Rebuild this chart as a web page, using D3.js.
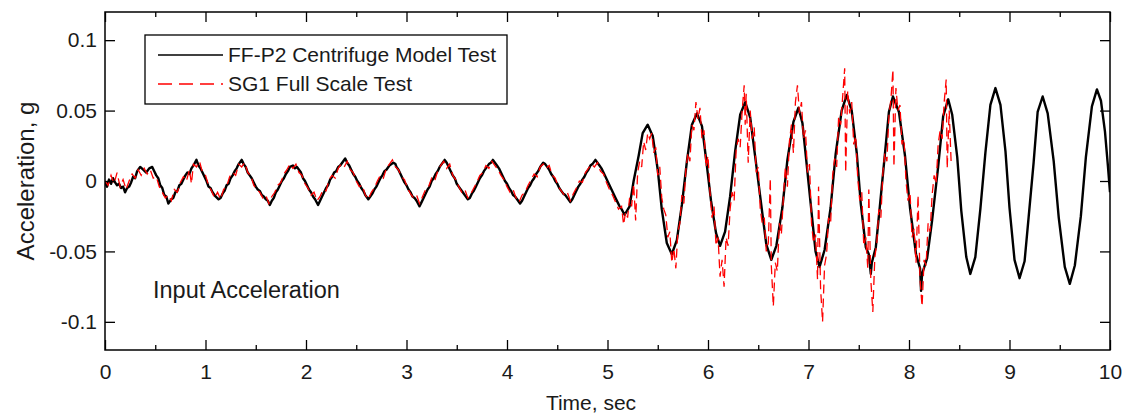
<!DOCTYPE html>
<html>
<head>
<meta charset="utf-8">
<script src="https://cdn.jsdelivr.net/npm/d3@7"></script>
<style>
  body { margin: 0; background: #fff; }
  svg text { font-family: "Liberation Sans", Arial, sans-serif; fill: #1a1a1a; }
</style>
</head>
<body>
<div id="chart"></div>
<script>
var W = 1122, H = 417;
var margin = {left: 105, right: 12, top: 12, bottom: 67};

// x domain / y domain of the figure
var timeRange = [0, 10];
var accelRange = [-0.12, 0.12];
var xMajor = [0, 1, 2, 3, 4, 5, 6, 7, 8, 9, 10];
var xMinor = [0.5, 1.5, 2.5, 3.5, 4.5, 5.5, 6.5, 7.5, 8.5, 9.5];
var yTicks = [-0.1, -0.05, 0, 0.05, 0.1];

// FF-P2 Centrifuge Model Test  [time s, acceleration g]
var ffP2 = [
  [0.00,-0.001],[0.02,-0.004],[0.04,0.001],[0.06,-0.002],[0.08,0.002],[0.10,-0.001],[0.12,-0.003],[0.14,-0.002],[0.16,-0.005],[0.18,-0.004],[0.20,-0.008],[0.22,-0.005],[0.24,-0.004],[0.26,-0.001],[0.28,0.003],
  [0.30,0.002],[0.32,0.007],[0.35,0.010],[0.38,0.008],[0.41,0.006],[0.44,0.009],[0.47,0.010],[0.49,0.007],[0.51,0.004],[0.53,0.002],[0.55,-0.003],
  [0.57,-0.005],[0.59,-0.010],[0.61,-0.011],[0.63,-0.016],[0.66,-0.013],[0.68,-0.012],[0.70,-0.008],[0.72,-0.007],[0.74,-0.003],[0.76,-0.002],[0.78,0.001],[0.80,0.004],[0.82,0.006],[0.84,0.005],[0.86,0.009],[0.88,0.011],
  [0.91,0.015],[0.93,0.011],[0.95,0.009],[0.97,0.006],[0.99,0.003],[1.01,0.000],[1.03,-0.004],[1.05,-0.005],[1.07,-0.008],[1.10,-0.011],[1.13,-0.013],[1.15,-0.012],[1.17,-0.009],
  [1.19,-0.007],[1.21,-0.003],[1.23,-0.002],[1.25,0.002],[1.27,0.004],[1.29,0.007],[1.31,0.009],[1.33,0.012],[1.36,0.015],[1.38,0.012],[1.40,0.010],[1.42,0.006],[1.44,0.004],[1.46,0.002],[1.48,-0.001],
  [1.50,-0.004],[1.52,-0.006],[1.54,-0.007],[1.56,-0.010],[1.58,-0.011],[1.60,-0.013],[1.62,-0.014],[1.64,-0.017],[1.66,-0.014],[1.68,-0.012],[1.70,-0.008],[1.72,-0.006],[1.74,-0.003],[1.76,0.000],[1.78,0.002],[1.80,0.005],
  [1.82,0.007],[1.84,0.010],[1.87,0.011],[1.89,0.009],[1.91,0.010],[1.93,0.008],[1.95,0.006],[1.97,0.002],[1.99,0.000],[2.01,-0.003],[2.03,-0.006],[2.05,-0.008],[2.07,-0.011],[2.09,-0.013],[2.12,-0.017],
  [2.14,-0.014],[2.16,-0.011],[2.18,-0.008],[2.20,-0.005],[2.22,-0.003],[2.24,0.001],[2.26,0.003],[2.28,0.006],[2.30,0.007],[2.32,0.010],[2.34,0.011],[2.36,0.013],[2.39,0.016],[2.41,0.013],[2.43,0.011],
  [2.45,0.008],[2.47,0.005],[2.49,0.003],[2.51,0.000],[2.53,-0.002],[2.55,-0.005],[2.57,-0.007],[2.59,-0.010],[2.62,-0.013],[2.64,-0.011],[2.66,-0.009],[2.68,-0.006],[2.70,-0.004],[2.72,-0.001],[2.74,0.002],
  [2.76,0.004],[2.78,0.007],[2.80,0.008],[2.83,0.011],[2.85,0.012],[2.87,0.013],[2.89,0.012],[2.90,0.010],[2.92,0.008],[2.94,0.005],[2.96,0.002],[2.98,-0.001],[3.00,-0.003],[3.02,-0.006],[3.04,-0.008],[3.06,-0.011],
  [3.08,-0.012],[3.10,-0.014],[3.13,-0.018],[3.15,-0.015],[3.17,-0.012],[3.19,-0.009],[3.21,-0.006],[3.23,-0.004],[3.25,0.000],[3.27,0.002],[3.29,0.005],[3.31,0.007],[3.33,0.010],[3.35,0.012],[3.38,0.015],
  [3.40,0.013],[3.42,0.010],[3.44,0.007],[3.46,0.004],[3.48,0.002],[3.50,-0.002],[3.52,-0.004],[3.54,-0.006],[3.56,-0.008],[3.58,-0.010],[3.61,-0.013],[3.63,-0.012],[3.65,-0.009],[3.67,-0.007],[3.69,-0.004],
  [3.71,-0.001],[3.73,0.002],[3.75,0.004],[3.77,0.007],[3.79,0.009],[3.82,0.012],[3.84,0.013],[3.86,0.015],[3.88,0.013],[3.90,0.011],[3.92,0.009],[3.94,0.006],[3.96,0.003],[3.98,0.000],[4.00,-0.002],[4.02,-0.005],
  [4.04,-0.007],[4.06,-0.010],[4.08,-0.011],[4.10,-0.013],[4.13,-0.016],[4.15,-0.014],[4.17,-0.011],[4.19,-0.008],[4.21,-0.005],[4.23,-0.003],[4.25,0.000],[4.27,0.002],[4.29,0.005],[4.31,0.007],[4.33,0.010],
  [4.36,0.013],[4.38,0.012],[4.40,0.010],[4.42,0.008],[4.44,0.005],[4.46,0.003],[4.48,0.000],[4.50,-0.002],[4.52,-0.005],[4.54,-0.007],[4.56,-0.009],[4.58,-0.010],[4.60,-0.012],[4.63,-0.015],
  [4.65,-0.013],[4.67,-0.010],[4.69,-0.007],[4.71,-0.004],[4.73,-0.002],[4.75,0.001],[4.77,0.003],[4.79,0.006],[4.81,0.008],[4.83,0.011],[4.85,0.012],[4.88,0.015],[4.90,0.013],[4.92,0.011],[4.94,0.009],[4.96,0.006],
  [4.98,0.003],[5.00,0.000],[5.02,-0.003],[5.04,-0.006],[5.06,-0.009],[5.08,-0.012],[5.10,-0.015],[5.12,-0.018],[5.14,-0.020],[5.17,-0.024],
  [5.22,-0.018],[5.26,0.000],[5.31,0.018],[5.35,0.034],[5.40,0.040],
  [5.45,0.032],[5.50,0.008],[5.54,-0.020],[5.59,-0.044],[5.64,-0.052],
  [5.69,-0.042],[5.74,-0.017],[5.79,0.014],[5.84,0.040],[5.89,0.048],
  [5.94,0.039],[5.98,0.016],[6.03,-0.014],[6.08,-0.037],[6.12,-0.046],
  [6.17,-0.036],[6.22,-0.011],[6.27,0.021],[6.32,0.047],[6.37,0.056],
  [6.42,0.045],[6.47,0.017],[6.53,-0.017],[6.58,-0.045],[6.63,-0.056],
  [6.68,-0.046],[6.74,-0.019],[6.79,0.015],[6.85,0.042],[6.90,0.052],
  [6.94,0.041],[6.98,0.013],[7.03,-0.022],[7.07,-0.050],[7.11,-0.061],
  [7.16,-0.049],[7.22,-0.019],[7.27,0.019],[7.33,0.050],[7.38,0.061],
  [7.43,0.050],[7.48,0.020],[7.52,-0.016],[7.57,-0.047],[7.60,-0.052],[7.62,-0.066],[7.63,-0.058],
  [7.67,-0.047],[7.71,-0.018],[7.76,0.019],[7.80,0.049],[7.84,0.060],
  [7.90,0.049],[7.96,0.018],[8.01,-0.019],[8.07,-0.052],[8.11,-0.062],[8.12,-0.078],[8.13,-0.066],
  [8.18,-0.055],[8.23,-0.028],[8.29,0.010],[8.34,0.046],[8.39,0.058],
  [8.43,0.047],[8.48,0.017],[8.52,-0.021],[8.57,-0.054],[8.61,-0.066],
  [8.66,-0.054],[8.71,-0.020],[8.76,0.020],[8.81,0.054],[8.86,0.066],
  [8.91,0.054],[8.96,0.021],[9.00,-0.019],[9.05,-0.056],[9.10,-0.069],
  [9.15,-0.057],[9.19,-0.026],[9.24,0.013],[9.28,0.049],[9.33,0.060],
  [9.38,0.048],[9.44,0.014],[9.49,-0.026],[9.55,-0.061],[9.60,-0.073],
  [9.65,-0.060],[9.71,-0.025],[9.76,0.017],[9.82,0.053],[9.87,0.065],
  [9.91,0.057],[9.95,0.035],[9.98,0.010],[10.00,-0.008]
];

// SG1 Full Scale Test  [time s, acceleration g]
var sg1 = [
  [0.00,0.000],[0.03,-0.003],[0.06,0.004],[0.09,-0.002],[0.12,0.006],[0.15,-0.004],[0.18,0.001],[0.21,-0.006],
  [0.24,0.000],[0.27,0.005],[0.30,0.002],[0.33,0.008],[0.36,0.004],[0.39,0.009],[0.42,0.005],[0.45,0.008],
  [0.48,0.002],[0.51,0.003],[0.54,-0.004],[0.57,-0.008],[0.60,-0.012],[0.63,-0.010],[0.66,-0.014],[0.69,-0.006],
  [0.72,-0.008],[0.75,-0.001],[0.78,0.003],[0.81,0.000],[0.84,0.008],[0.86,-0.002],[0.88,0.012],[0.91,0.010],
  [0.94,0.014],[0.97,0.006],[1.00,0.004],[1.03,-0.003],[1.06,-0.007],[1.09,-0.012],[1.12,-0.008],[1.15,-0.013],
  [1.18,-0.006],[1.21,-0.004],[1.24,0.003],[1.27,0.006],[1.30,0.004],[1.33,0.012],[1.36,0.010],[1.39,0.013],
  [1.42,0.006],[1.45,0.004],[1.48,-0.003],[1.51,-0.006],[1.54,-0.008],[1.57,-0.012],[1.60,-0.010],[1.63,-0.016],
  [1.66,-0.011],[1.69,-0.008],[1.72,-0.003],[1.75,-0.001],[1.78,0.005],[1.81,0.008],[1.84,0.012],[1.87,0.009],
  [1.90,0.012],[1.93,0.006],[1.96,0.004],[1.99,-0.002],[2.02,-0.005],[2.05,-0.010],[2.08,-0.008],[2.11,-0.014],
  [2.14,-0.011],[2.17,-0.006],[2.20,-0.007],[2.23,0.001],[2.26,0.004],[2.29,0.002],[2.32,0.009],[2.35,0.012],
  [2.38,0.010],[2.41,0.014],[2.44,0.008],[2.47,0.006],[2.50,0.000],[2.53,-0.004],[2.56,-0.003],[2.59,-0.010],
  [2.62,-0.013],[2.65,-0.008],[2.68,-0.005],[2.71,0.000],[2.74,0.004],[2.77,0.002],[2.80,0.009],[2.83,0.012],
  [2.86,0.015],[2.89,0.010],[2.92,0.008],[2.95,0.003],[2.98,0.001],[3.01,-0.005],[3.04,-0.009],[3.07,-0.012],
  [3.10,-0.010],[3.13,-0.016],[3.16,-0.011],[3.19,-0.006],[3.22,-0.004],[3.25,0.002],[3.28,0.000],[3.31,0.007],
  [3.34,0.011],[3.37,0.014],[3.40,0.009],[3.43,0.012],[3.46,0.004],[3.49,0.001],[3.52,-0.004],[3.55,-0.008],
  [3.58,-0.006],[3.61,-0.012],[3.64,-0.009],[3.67,-0.005],[3.70,-0.001],[3.73,0.004],[3.76,0.006],[3.79,0.011],
  [3.82,0.009],[3.85,0.014],[3.88,0.011],[3.91,0.008],[3.94,0.004],[3.97,0.001],[4.00,-0.004],[4.03,-0.008],
  [4.06,-0.006],[4.09,-0.012],[4.12,-0.015],[4.15,-0.010],[4.18,-0.008],[4.21,-0.003],[4.24,0.001],[4.27,0.005],
  [4.30,0.003],[4.33,0.010],[4.36,0.012],[4.39,0.009],[4.42,0.011],[4.45,0.004],[4.48,0.002],[4.51,-0.004],
  [4.54,-0.007],[4.57,-0.010],[4.60,-0.008],[4.63,-0.014],[4.66,-0.009],[4.69,-0.005],[4.72,0.000],[4.75,-0.001],
  [4.78,0.006],[4.81,0.009],[4.84,0.012],[4.87,0.010],[4.90,0.013],[4.93,0.007],[4.96,0.005],[4.99,-0.001],
  [5.02,-0.006],[5.05,-0.010],[5.08,-0.015],[5.11,-0.020],[5.14,-0.018],[5.16,-0.031],[5.18,-0.022],
  [5.20,-0.026],[5.22,-0.012],[5.24,-0.018],[5.26,-0.002],[5.28,-0.028],[5.30,0.006],[5.32,0.014],[5.34,0.010],
  [5.36,0.028],[5.38,0.022],[5.40,0.034],[5.42,0.030],[5.44,0.034],[5.46,0.020],[5.48,0.024],[5.50,0.004],
  [5.52,0.010],[5.54,-0.012],[5.56,-0.020],[5.58,-0.024],[5.60,-0.040],[5.62,-0.036],[5.64,-0.058],[5.66,-0.048],
  [5.68,-0.062],[5.70,-0.036],[5.72,-0.030],[5.74,-0.010],[5.76,-0.016],[5.78,0.008],[5.80,0.020],[5.82,0.014],
  [5.84,0.040],[5.86,0.036],[5.88,0.056],[5.90,0.044],[5.92,0.052],[5.94,0.030],[5.96,0.036],[5.98,0.010],
  [6.00,0.018],[6.02,-0.008],[6.04,-0.026],[6.06,-0.018],[6.08,-0.046],[6.10,-0.040],[6.12,-0.068],[6.14,-0.056],
  [6.16,-0.075],[6.18,-0.040],[6.20,-0.046],[6.22,-0.020],[6.24,-0.008],[6.26,-0.014],[6.28,0.022],[6.30,0.030],
  [6.32,0.024],[6.34,0.050],[6.36,0.068],[6.37,0.040],[6.38,0.062],[6.40,0.013],[6.42,0.050],[6.44,0.030],
  [6.46,0.038],[6.48,0.006],[6.50,0.010],[6.52,-0.020],[6.54,-0.030],[6.56,-0.026],[6.58,-0.050],[6.60,-0.044],
  [6.62,0.002],[6.63,-0.060],[6.65,-0.089],[6.67,-0.058],[6.69,-0.064],[6.71,-0.030],[6.73,-0.038],[6.75,-0.012],
  [6.77,0.010],[6.79,-0.004],[6.81,0.028],[6.83,0.040],[6.85,0.020],[6.87,0.056],[6.89,0.068],[6.91,0.048],
  [6.93,0.056],[6.95,0.030],[6.97,0.036],[6.99,0.006],[7.01,0.012],[7.03,-0.030],[7.05,-0.044],[7.07,-0.038],
  [7.09,-0.070],[7.10,-0.004],[7.12,-0.076],[7.14,-0.100],[7.16,-0.060],[7.18,-0.052],[7.20,-0.026],[7.22,-0.030],
  [7.24,0.004],[7.26,0.016],[7.28,0.010],[7.30,0.046],[7.32,0.040],[7.34,0.060],[7.36,0.080],[7.37,0.006],
  [7.39,0.064],[7.41,0.048],[7.43,0.056],[7.45,0.026],[7.47,0.032],[7.49,0.002],[7.51,-0.014],[7.53,-0.008],
  [7.55,-0.046],[7.57,-0.040],[7.59,-0.062],[7.60,-0.006],[7.62,-0.070],[7.64,-0.093],[7.66,-0.054],[7.68,-0.044],
  [7.70,-0.020],[7.72,-0.026],[7.74,0.006],[7.76,0.020],[7.78,0.014],[7.80,0.046],[7.82,0.058],[7.84,0.079],
  [7.85,0.010],[7.87,0.066],[7.89,0.050],[7.91,0.054],[7.93,0.026],[7.95,0.030],[7.97,0.000],[7.99,-0.014],
  [8.01,-0.008],[8.03,-0.040],[8.05,-0.034],[8.07,-0.058],[8.09,-0.010],[8.11,-0.070],[8.13,-0.089],[8.15,-0.056],
  [8.17,-0.060],[8.19,-0.030],[8.21,-0.036],[8.23,-0.010],[8.25,0.004],[8.27,-0.002],[8.29,0.026],[8.31,0.036],
  [8.33,0.030],[8.35,0.056],[8.37,0.072],[8.38,0.009],[8.40,0.050],[8.42,0.012]
];

var seriesNames = ["FF-P2 Centrifuge Model Test", "SG1 Full Scale Test"];

var svg = d3.select("#chart").append("svg")
    .attr("width", W)
    .attr("height", H);

var x = d3.scaleLinear().domain(timeRange).range([margin.left, W - margin.right]);
var y = d3.scaleLinear().domain(accelRange).range([H - margin.bottom, margin.top]);

var fmt = d => String(+d.toFixed(2));

var line = d3.line()
    .x(d => x(d[0]))
    .y(d => y(d[1]));

// clip so nothing leaks past the frame
svg.append("clipPath").attr("id", "plotclip")
  .append("rect")
    .attr("x", x(0)).attr("y", y(0.12))
    .attr("width", x(10) - x(0)).attr("height", y(-0.12) - y(0.12));

var plot = svg.append("g").attr("clip-path", "url(#plotclip)");

plot.append("path")
    .datum(ffP2)
    .attr("fill", "none")
    .attr("stroke", "#000")
    .attr("stroke-width", 2.4)
    .attr("stroke-linejoin", "round")
    .attr("d", line);

plot.append("path")
    .datum(sg1)
    .attr("fill", "none")
    .attr("stroke", "#ff0000")
    .attr("stroke-width", 1.3)
    .attr("stroke-dasharray", "9,5")
    .attr("d", line);

// axes: ticks point inward, all four sides
function styleAxis(g) {
  g.select(".domain").remove();
  g.selectAll(".tick line").attr("stroke", "#000").attr("stroke-width", 1.3);
  g.selectAll("text").style("font-size", "21px").attr("fill", "#1a1a1a");
}

svg.append("g")
    .attr("transform", `translate(0,${y(-0.12)})`)
    .call(d3.axisBottom(x).tickValues(xMajor).tickSize(-10).tickPadding(14).tickFormat(fmt))
    .call(styleAxis);
svg.append("g")
    .attr("transform", `translate(0,${y(-0.12)})`)
    .call(d3.axisBottom(x).tickValues(xMinor).tickSize(-5).tickFormat(""))
    .call(styleAxis);
svg.append("g")
    .attr("transform", `translate(0,${y(0.12)})`)
    .call(d3.axisTop(x).tickValues(xMajor).tickSize(-10).tickFormat(""))
    .call(styleAxis);
svg.append("g")
    .attr("transform", `translate(0,${y(0.12)})`)
    .call(d3.axisTop(x).tickValues(xMinor).tickSize(-5).tickFormat(""))
    .call(styleAxis);
svg.append("g")
    .attr("transform", `translate(${x(0)},0)`)
    .call(d3.axisLeft(y).tickValues(yTicks).tickSize(-10).tickPadding(8).tickFormat(fmt))
    .call(styleAxis);
svg.append("g")
    .attr("transform", `translate(${x(10)},0)`)
    .call(d3.axisRight(y).tickValues(yTicks).tickSize(-10).tickFormat(""))
    .call(styleAxis);

// frame
svg.append("rect")
    .attr("x", x(0)).attr("y", y(0.12))
    .attr("width", x(10) - x(0)).attr("height", y(-0.12) - y(0.12))
    .attr("fill", "none")
    .attr("stroke", "#000")
    .attr("stroke-width", 1.5);

// axis titles
svg.append("text")
    .attr("x", 591)
    .attr("y", 410)
    .attr("text-anchor", "middle")
    .style("font-size", "21px")
    .text("Time, sec");

svg.append("text")
    .attr("transform", `translate(34,${y(0)}) rotate(-90)`)
    .attr("text-anchor", "middle")
    .style("font-size", "24px")
    .text("Acceleration, g");

svg.append("text")
    .attr("x", 153)
    .attr("y", 298)
    .style("font-size", "23.5px")
    .text("Input Acceleration");

// legend
var legend = svg.append("g");
legend.append("rect")
    .attr("x", 145).attr("y", 35)
    .attr("width", 362).attr("height", 69)
    .attr("fill", "#fff")
    .attr("stroke", "#000")
    .attr("stroke-width", 1.3);

var legendStyles = [
  {stroke: "#000", width: 1.5, dash: null},
  {stroke: "#ff0000", width: 1.3, dash: "14,7"}
];
seriesNames.forEach(function (name, i) {
  var ly = 55 + i * 29;
  legend.append("line")
      .attr("x1", 158).attr("x2", 223)
      .attr("y1", ly).attr("y2", ly)
      .attr("stroke", legendStyles[i].stroke)
      .attr("stroke-width", legendStyles[i].width)
      .attr("stroke-dasharray", legendStyles[i].dash);
  legend.append("text")
      .attr("x", 228)
      .attr("y", ly)
      .attr("dy", "0.35em")
      .style("font-size", "21px")
      .text(name);
});
</script>
</body>
</html>
